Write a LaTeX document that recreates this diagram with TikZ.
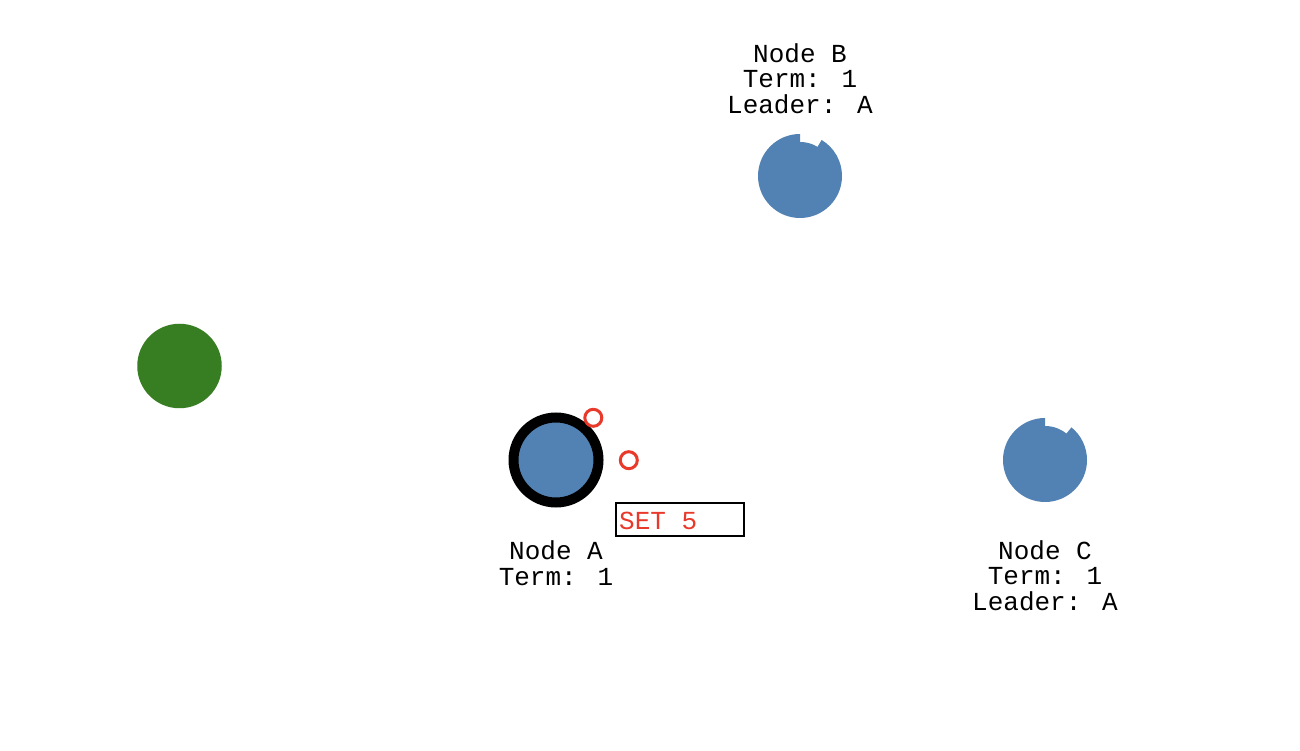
\documentclass[tikz,border=0pt]{standalone}
\usepackage{fontspec}
\newfontfamily\labelfont{Liberation Mono}
\definecolor{nodeblue}{RGB}{81,130,179}
\definecolor{nodegreen}{RGB}{55,126,34}
\definecolor{msgred}{RGB}{232,57,42}
\tikzset{
  lbl/.style={font=\labelfont\fontsize{26}{25.3}\selectfont, align=center, anchor=base, inner sep=0pt},
  msgdot/.style={circle, draw=msgred, line width=3pt, minimum size=17pt, inner sep=0pt},
}
\begin{document}
\begin{tikzpicture}[x=1pt,y=1pt]
\useasboundingbox (0,0) rectangle (1300,750);
\fill[white] (0,0) rectangle (1300,750);

% green node
\node[circle, fill=nodegreen, minimum size=84.5pt, inner sep=0pt] (G) at (179.5,384) {};

% Node A (leader)
\node[circle, fill=nodeblue, draw=black, line width=10pt, minimum size=85pt, inner sep=0pt] (A) at (556,290) {};
\node[lbl] (Alab) at (556,165) {Node A\\Term: 1};

% Node B with notch
\coordinate (B) at (800,574);
\fill[nodeblue] (B) circle[radius=34];
\fill[nodeblue] (B) -- ++(90:42) arc[start angle=90, end angle=419, radius=42] -- cycle;
\node[lbl] (Blab) at (800,636.7) {Node B\\Term: 1\\Leader: A};

% Node C with notch
\coordinate (C) at (1045,290);
\fill[nodeblue] (C) circle[radius=34];
\fill[nodeblue] (C) -- ++(90:42) arc[start angle=90, end angle=411, radius=42] -- cycle;
\node[lbl] (Clab) at (1045,140) {Node C\\Term: 1\\Leader: A};

% messages
\node[msgdot] (m1) at (593.3,332.2) {};
\node[msgdot] (m2) at (628.8,289.8) {};

% command box
\draw[line width=2pt] (616,247) rectangle (744,214);
\node[anchor=base west, inner sep=0pt, text=msgred, font=\labelfont\fontsize{26}{26}\selectfont] (cmd) at (619,220.3) {SET 5};
\end{tikzpicture}
\end{document}
